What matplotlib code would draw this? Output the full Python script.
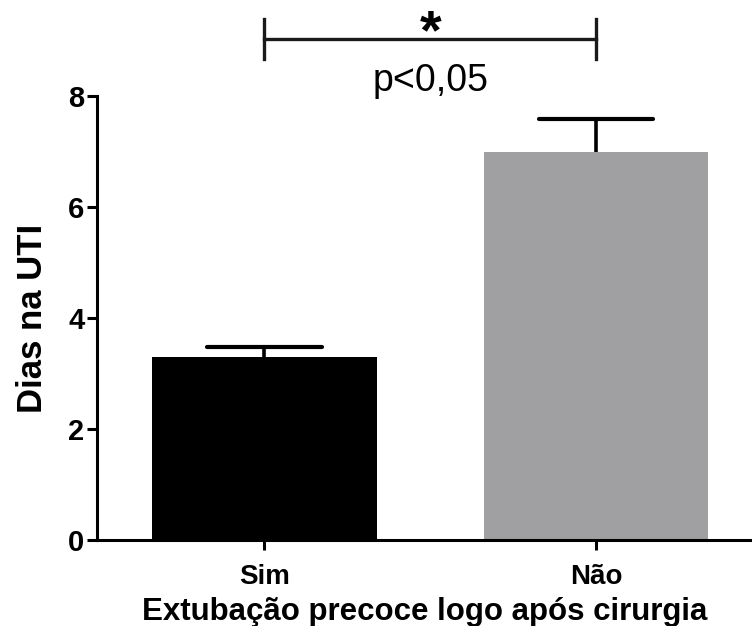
import matplotlib
matplotlib.use("Agg")
import matplotlib.pyplot as plt

plt.rcParams['font.family'] = ['Liberation Sans', 'DejaVu Sans']

categories = ["Sim", "Não"]
means = [3.3, 7.0]
sem = [0.17, 0.58]
colors = ["#000000", "#a0a0a2"]
y_ticks = [0, 2, 4, 6, 8]
y_label = "Dias na UTI"
x_label = "Extubação precoce logo após cirurgia"
sig_mark = "*"
p_text = "p<0,05"

fig = plt.figure(figsize=(7.52, 6.26), dpi=100)
ax = fig.add_axes([0.129, 0.1374, 0.871, 0.7092])

x = list(range(len(categories)))
bar_w = 0.677
cap_half = 0.172
ax.bar(x, means, width=bar_w, color=colors, zorder=2)

# upper-only error bars (SEM)
tops = [m + s for m, s in zip(means, sem)]
ax.vlines(x, means, tops, colors="black", lw=2.6, zorder=1)
ax.hlines(tops, [xi - cap_half for xi in x], [xi + cap_half for xi in x],
          colors="black", lw=3.0, capstyle="round", zorder=1)

ax.set_xlim(-0.505, 1.47)
ax.set_ylim(0, 8)
ax.set_xticks(x)
ax.set_xticklabels(categories, fontsize=20, fontweight="bold")
ax.set_yticks(y_ticks)
ax.set_yticklabels([str(t) for t in y_ticks], fontsize=21, fontweight="bold")
ax.tick_params(axis="both", direction="out", length=7, width=2.2)
ax.tick_params(axis="x", pad=10)
ax.tick_params(axis="y", pad=2)

for side in ("top", "right"):
    ax.spines[side].set_visible(False)
for side in ("left", "bottom"):
    ax.spines[side].set_linewidth(2.2)

ax.set_ylabel(y_label, fontsize=25, fontweight="bold", labelpad=14)
ax.set_xlabel(x_label, fontsize=22.5, fontweight="bold", labelpad=5)

# significance bracket between the two groups
y_br = 9.03
ax.plot([x[0], x[1]], [y_br, y_br], color="#1a1a1a", lw=2.4, clip_on=False)
for xi in x:
    ax.plot([xi, xi], [y_br - 0.36, y_br + 0.36], color="#1a1a1a", lw=2.4,
            clip_on=False)
ax.text((x[0] + x[1]) / 2, 8.86, sig_mark, ha="center", va="baseline",
        fontsize=40, fontweight="bold", clip_on=False)
ax.text((x[0] + x[1]) / 2, 8.27, p_text, ha="center", va="center",
        fontsize=27, clip_on=False)

fig.savefig("out.png", dpi=100)
